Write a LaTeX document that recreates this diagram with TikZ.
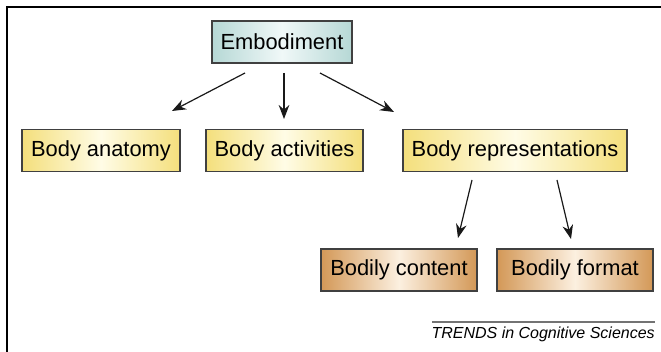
\documentclass[tikz,border=0pt]{standalone}
\usepackage{fontspec}
\setmainfont{Liberation Sans}
\usetikzlibrary{arrows.meta,calc}
\begin{document}
\begin{tikzpicture}[x=0.75pt,y=-0.75pt,
  box/.style={draw=black!75, line width=0.9pt, inner sep=0pt, font=\fontsize{16.4}{18}\selectfont,
    minimum height=42*0.75pt, anchor=center},
  bluebox/.style={box, left color=blue1, right color=blue1, middle color=blue2},
  yellowbox/.style={box, left color=yellow1, right color=yellow1, middle color=yellow2},
  orangebox/.style={box, left color=orange1, right color=orange1, middle color=orange2},
  arr/.style={-{Stealth[length=10.5pt,width=8pt]}, line width=0.9pt, black!90}
]
\definecolor{blue1}{HTML}{B6D8D5}
\definecolor{blue2}{HTML}{F0F8F8}
\definecolor{yellow1}{HTML}{F4DF7C}
\definecolor{yellow2}{HTML}{FFFCE6}
\definecolor{orange1}{HTML}{D39857}
\definecolor{orange2}{HTML}{FCF0E0}
\useasboundingbox (0,0) rectangle (661,352);
% frame
\draw[line width=1.3pt] (7,352) -- (7,7) -- (661,7);
% boxes
\node[bluebox, minimum width=140*0.75pt] (emb) at (282,42) {Embodiment};
\node[yellowbox, minimum width=158*0.75pt] (anat) at (101,150.5) {Body anatomy};
\node[yellowbox, minimum width=157*0.75pt] (act) at (284.5,150.5) {Body activities};
\node[yellowbox, minimum width=224*0.75pt] (rep) at (515,150.5) {Body representations};
\node[orangebox, minimum width=156*0.75pt] (cont) at (399,270) {Bodily content};
\node[orangebox, minimum width=156*0.75pt] (form) at (575,270) {Bodily format};
% arrow end points
\coordinate (e1) at (245,73);
\coordinate (e2) at (284,73);
\coordinate (e3) at (320,73);
\coordinate (a1) at (172,111);
\coordinate (a2) at (284,119);
\coordinate (a3) at (394,112);
\coordinate (r1) at (472,180);
\coordinate (r2) at (557,180);
\coordinate (c1) at (458,238);
\coordinate (f1) at (571,239);
\draw[arr] (e1) -- (a1);
\draw[arr] (e2) -- (a2);
\draw[arr] (e3) -- (a3);
\draw[arr] (r1) -- (c1);
\draw[arr] (r2) -- (f1);
% journal tag
\draw[black!55, line width=0.8pt] (432,322) -- (655,322);
\node[font=\fontsize{12}{14}\selectfont\itshape, anchor=base east, inner sep=0pt] (tag) at (655,339) {TRENDS in Cognitive Sciences};
\end{tikzpicture}
\end{document}
